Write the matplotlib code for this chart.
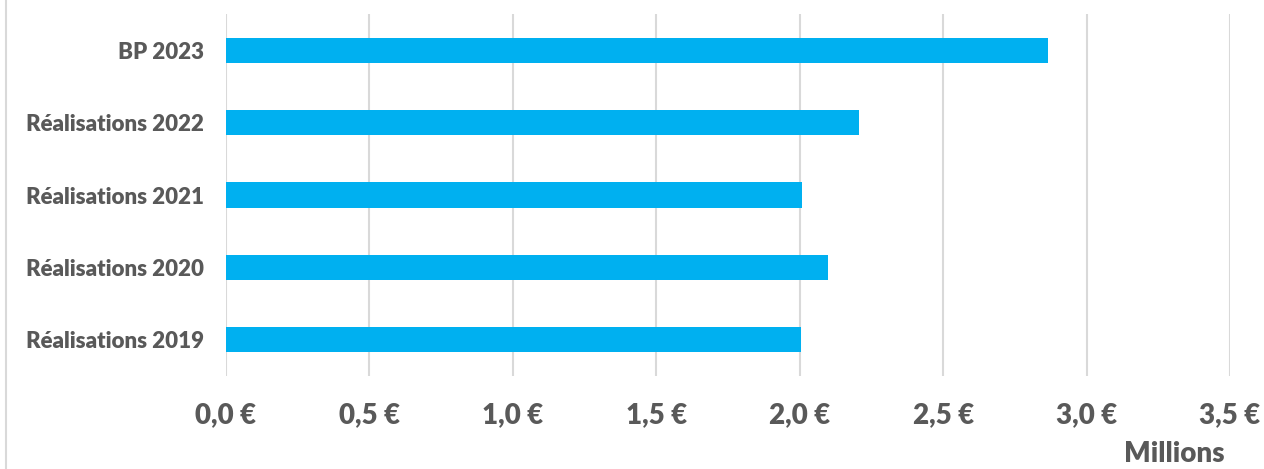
import matplotlib
matplotlib.use("Agg")
import matplotlib.pyplot as plt
from matplotlib.lines import Line2D

categories = ["Réalisations 2019", "Réalisations 2020", "Réalisations 2021",
              "Réalisations 2022", "BP 2023"]
values = [2.005, 2.098, 2.007, 2.207, 2.866]  # millions €
xticks = [0.0, 0.5, 1.0, 1.5, 2.0, 2.5, 3.0, 3.5]

GREY = "#595959"
BLUE = "#00B0F0"

plt.rcParams["font.family"] = ["Lato", "DejaVu Sans"]

fig = plt.figure(figsize=(12.64, 4.69), dpi=100)
ax = fig.add_axes([226 / 1264, 1 - 376 / 469, (1230 - 226) / 1264, (376 - 14) / 469])

y = range(len(categories))
ax.barh(y, values, height=0.35, color=BLUE, zorder=3)

ax.set_xlim(0, 3.5)
ax.set_ylim(-0.5, len(categories) - 0.5)
ax.set_xticks(xticks)
ax.set_xticklabels([f"{t:.1f} €".replace(".", ",") for t in xticks],
                   fontsize=20, fontweight="heavy", color=GREY)
ax.set_yticks(list(y))
ax.set_yticklabels(categories, fontsize=16, fontweight="heavy", color=GREY)
ax.tick_params(axis="both", length=0)
ax.tick_params(axis="x", pad=19)
ax.tick_params(axis="y", pad=16)

ax.grid(axis="x", color="#D9D9D9", linewidth=1.5, zorder=0)
for s in ax.spines.values():
    s.set_visible(False)

fig.text(1174 / 1264, 1 - 454 / 469, "Millions", ha="center", va="center",
         fontsize=20, fontweight="heavy", color=GREY)

# chart frame, only its left edge shows
fig.add_artist(Line2D([6 / 1264, 6 / 1264], [0, 1], color="#D9D9D9", linewidth=1.5))

fig.savefig("out.png", dpi=100)
